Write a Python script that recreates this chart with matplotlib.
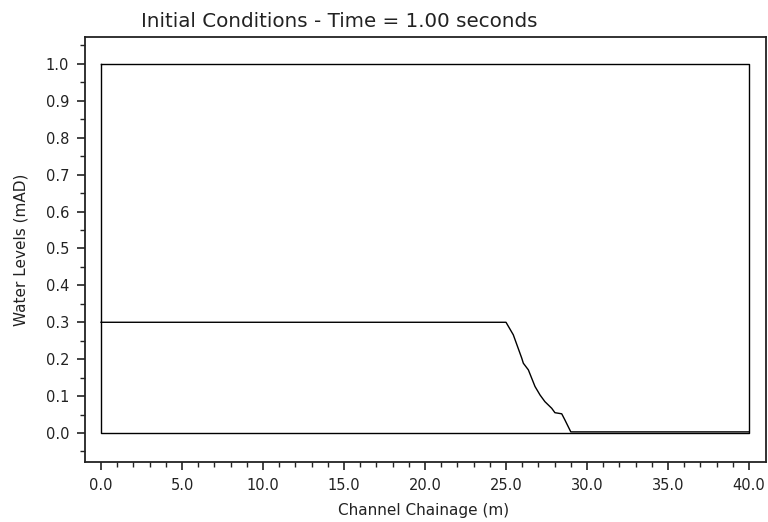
import matplotlib
matplotlib.use('Agg')
from matplotlib import pyplot as plt
from matplotlib.ticker import MultipleLocator, FixedLocator, FormatStrFormatter

plt.rcParams['font.family'] = ['DejaVu Sans']

# channel outline (bed + banks)
bed_x = [0.0, 0.0, 40.0, 40.0, 0.0]
bed_y = [1.0, 0.0, 0.0, 1.0, 1.0]

# water surface at t = 1.00 s
water_x = [0.0, 25.0, 25.45, 25.97, 26.07, 26.38, 26.79, 27.1, 27.4,
           27.82, 28.02, 28.44, 28.64, 29.0, 40.0]
water_y = [0.3, 0.3, 0.266, 0.203, 0.189, 0.171, 0.126, 0.103, 0.085,
           0.067, 0.055, 0.052, 0.035, 0.003, 0.003]

title = 'Initial Conditions - Time = 1.00 seconds'

fig = plt.figure(figsize=(7.68, 5.22), dpi=100)
ax = fig.add_axes([85 / 768, 1 - 462 / 522, 681 / 768, 425 / 522])

ax.plot(bed_x, bed_y, color='black', lw=1.0)
ax.plot(water_x, water_y, color='black', lw=1.0)

ax.set_xlim(-0.99, 41.05)
ax.set_ylim(-0.0786, 1.073)

ax.xaxis.set_major_locator(MultipleLocator(5))
ax.xaxis.set_minor_locator(FixedLocator(list(range(0, 41))))
ax.yaxis.set_major_locator(MultipleLocator(0.1))
ax.yaxis.set_minor_locator(MultipleLocator(0.05))
ax.xaxis.set_major_formatter(FormatStrFormatter('%.1f'))
ax.yaxis.set_major_formatter(FormatStrFormatter('%.1f'))

for s in ax.spines.values():
    s.set_linewidth(1.3)
    s.set_color('#222222')

ax.tick_params(which='major', length=6, width=1.2, labelsize=10.5,
               pad=5.5, color='#222222', labelcolor='#222222')
ax.tick_params(which='minor', length=3.5, width=1.0, color='#222222')

fig.text(424 / 768, 1 - 510 / 522, 'Channel Chainage (m)', fontsize=11,
         ha='center', va='center', color='#222222')
fig.text(21 / 768, 1 - 250 / 522, 'Water Levels (mAD)', fontsize=11,
         ha='center', va='center', rotation=90, color='#222222')
fig.text(141 / 768, 1 - 27 / 522, title, fontsize=14.3, ha='left',
         va='baseline', color='#222222')

fig.savefig('out.png', dpi=100)
